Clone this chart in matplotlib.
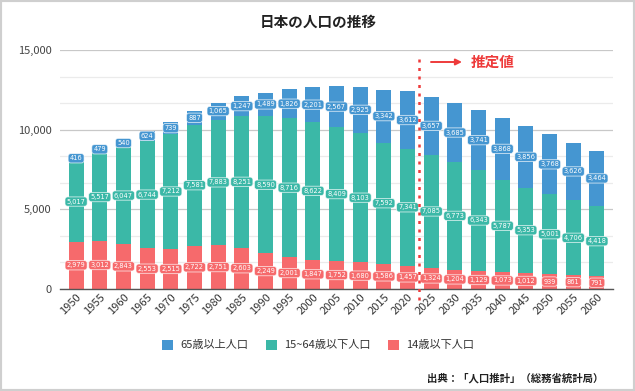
import matplotlib
matplotlib.use("Agg")
import matplotlib.pyplot as plt
from matplotlib.patches import Rectangle, Patch
from matplotlib.ticker import MultipleLocator, FuncFormatter
import numpy as np

plt.rcParams['font.family'] = ['Noto Sans CJK JP', 'DejaVu Sans']

years = [1950, 1955, 1960, 1965, 1970, 1975, 1980, 1985, 1990, 1995, 2000, 2005,
         2010, 2015, 2020, 2025, 2030, 2035, 2040, 2045, 2050, 2055, 2060]
under14 = [2979, 3012, 2843, 2553, 2515, 2722, 2751, 2603, 2249, 2001, 1847, 1752,
           1680, 1586, 1457, 1324, 1204, 1129, 1073, 1012, 939, 861, 791]
age15_64 = [5017, 5517, 6047, 6744, 7212, 7581, 7883, 8251, 8590, 8716, 8622, 8409,
            8103, 7592, 7341, 7085, 6773, 6343, 5787, 5353, 5001, 4706, 4418]
over65 = [416, 479, 540, 624, 739, 887, 1065, 1247, 1489, 1826, 2201, 2567,
          2925, 3342, 3612, 3657, 3685, 3741, 3868, 3856, 3768, 3626, 3464]
series_names = ['65歳以上人口', '15~64歳以下人口', '14歳以下人口']
colors = ['#4596d1', '#3bb8a7', '#f66a6c']
estimate_boundary = 14.5  # between 2020 and 2025

W, H = 635, 391
fig = plt.figure(figsize=(W / 100, H / 100), dpi=100)
ax = fig.add_axes([60 / W, 1 - 289 / H, 553 / W, 239 / H])

x = np.arange(len(years))
bw = 0.64
u = np.array(under14)
m = np.array(age15_64)
o = np.array(over65)
ax.bar(x, u, bw, color=colors[2], zorder=3)
ax.bar(x, m, bw, bottom=u, color=colors[1], zorder=3)
ax.bar(x, o, bw, bottom=u + m, color=colors[0], zorder=3)

def lab(xi, yc, val, col):
    ax.text(xi, yc, f"{val:,}", ha='center', va='center', fontsize=4.8,
            color='white', zorder=5, family=['DejaVu Sans'],
            bbox=dict(boxstyle='round,pad=0.25,rounding_size=0.4', fc=col,
                      ec=(1, 1, 1, 0.75), lw=0.6))

for i in range(len(years)):
    lab(x[i], u[i] / 2, u[i], colors[2])
    lab(x[i], u[i] + m[i] / 2, m[i], colors[1])
    lab(x[i], u[i] + m[i] + o[i] / 2, o[i], colors[0])

ax.set_xlim(-0.68, 22.68)
ax.set_ylim(0, 15000)
ax.yaxis.set_major_locator(MultipleLocator(5000))
ax.yaxis.set_minor_locator(MultipleLocator(5000 / 3))
ax.yaxis.set_major_formatter(FuncFormatter(lambda v, p: f"{int(v):,}"))
ax.grid(axis='y', which='major', color='#c8c8c8', lw=0.9, zorder=0)
ax.grid(axis='y', which='minor', color='#ebebeb', lw=0.9, zorder=0)
for s in ['top', 'right', 'left']:
    ax.spines[s].set_visible(False)
ax.spines['bottom'].set_color('#555555')
ax.spines['bottom'].set_linewidth(1.0)
ax.spines['bottom'].set_zorder(4)
ax.tick_params(axis='y', which='both', length=0, labelsize=8, colors='#444444', pad=6)
ax.tick_params(axis='x', length=0, labelsize=8, colors='#333333', pad=2)
ax.set_xticks(x)
ax.set_xticklabels([str(y) for y in years], rotation=45, ha='right',
                   rotation_mode='anchor')

# estimate boundary
ax.plot([estimate_boundary, estimate_boundary], [-700, 14700], color='#ee3b3b',
        lw=1.8, ls=(0, (1.2, 2.2)), clip_on=False, zorder=6)
ax.annotate('', xy=(462, H - 62), xycoords='figure pixels',
            xytext=(431, H - 62), textcoords='figure pixels',
            arrowprops=dict(arrowstyle='-|>', color='#ee3b3b', lw=1.4,
                            mutation_scale=9, shrinkA=0, shrinkB=0))
fig.text(471 / W, 1 - 62 / H, '推定値', color='#ee3b3b', fontsize=10.5,
         fontweight='bold', ha='left', va='center')

fig.text(318 / W, 1 - 22 / H, '日本の人口の推移', fontsize=10.5, fontweight='bold',
         ha='center', va='center', color='#222222')

handles = [Patch(fc=c, ec='none') for c in colors]
fig.legend(handles, series_names, loc='center', bbox_to_anchor=(318 / W, 1 - 345 / H),
           ncol=3, frameon=False, fontsize=8, handlelength=1.0, handleheight=1.0,
           columnspacing=1.6, handletextpad=0.6, labelcolor='#333333')

fig.text(603 / W, 1 - 378 / H, '出典：「人口推計」（総務省統計局）', fontsize=7.5,
         fontweight='bold', ha='right', va='center', color='#222222')

fig.patches.append(Rectangle((0, 0), 1, 1, transform=fig.transFigure, fill=False,
                             ec='#cfcfcf', lw=3))

fig.savefig('out.png', dpi=100)
